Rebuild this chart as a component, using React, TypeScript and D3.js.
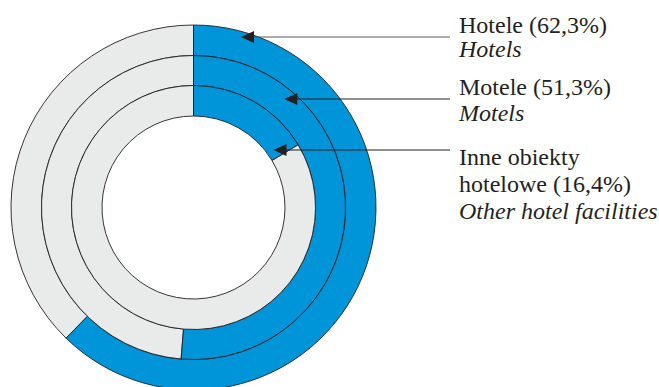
import React from "react";
import * as d3 from "d3";

const categories = ["Hotele", "Motele", "Inne obiekty hotelowe"];
const labelsPl = [["Hotele (62,3%)"], ["Motele (51,3%)"], ["Inne obiekty", "hotelowe (16,4%)"]];
const labelsEn = ["Hotels", "Motels", "Other hotel facilities"];
const shares = [62.3, 51.3, 16.4];

const W = 659;
const H = 387;
const cx = 193.5;
const cy = 207.5;
const radii = [182.5, 152, 122, 91.5];

// annotation geometry
const arrowY = [37, 99, 150];
const arrowR = [177, 141.5, 98.5];
const textX = 459;
const lineEndX = 450;
const plBaselines = [[33], [95], [165, 192]];
const enBaselines = [57, 120.5, 219];

const BLUE = "#0095D9";
const GREY = "#E9EAEA";
const STROKE = "#231F20";

export default function App() {
  const angle = d3.scaleLinear().domain([0, 100]).range([0, 2 * Math.PI]);
  const arc = d3.arc<any>();
  const font = "'Liberation Serif', 'Times New Roman', serif";

  return (
    <svg
      width={W}
      height={H}
      style={{ position: "absolute", left: 0, top: 0, background: "#fff" }}
    >
      <g transform={`translate(${cx},${cy})`}>
        {shares.map((s, i) => {
          const outer = radii[i];
          const inner = radii[i + 1];
          const blue = arc({ innerRadius: inner, outerRadius: outer, startAngle: 0, endAngle: angle(s) });
          const grey = arc({ innerRadius: inner, outerRadius: outer, startAngle: angle(s), endAngle: 2 * Math.PI });
          return (
            <g key={categories[i]}>
              <path d={grey || ""} fill={GREY} stroke={STROKE} strokeWidth={0.9} />
              <path d={blue || ""} fill={BLUE} stroke={STROKE} strokeWidth={0.9} />
            </g>
          );
        })}
      </g>
      {shares.map((s, i) => {
        const y = arrowY[i];
        const dy = y - cy;
        const tipX = cx + Math.sqrt(arrowR[i] * arrowR[i] - dy * dy);
        return (
          <g key={"ann" + i}>
            <line
              x1={tipX + 10}
              y1={y}
              x2={lineEndX}
              y2={y}
              stroke={i === 0 ? "#58595B" : STROKE}
              strokeWidth={1}
            />
            <path
              d={`M${tipX},${y} L${tipX + 13},${y - 6} L${tipX + 13},${y + 6} Z`}
              fill={STROKE}
            />
            {labelsPl[i].map((t, j) => (
              <text
                key={j}
                x={textX}
                y={plBaselines[i][j]}
                fontFamily={font}
                fontSize={24}
                fill={STROKE}
              >
                {t}
              </text>
            ))}
            <text
              x={textX}
              y={enBaselines[i]}
              fontFamily={font}
              fontSize={24}
              fontStyle="italic"
              fill={STROKE}
            >
              {labelsEn[i]}
            </text>
          </g>
        );
      })}
    </svg>
  );
}
